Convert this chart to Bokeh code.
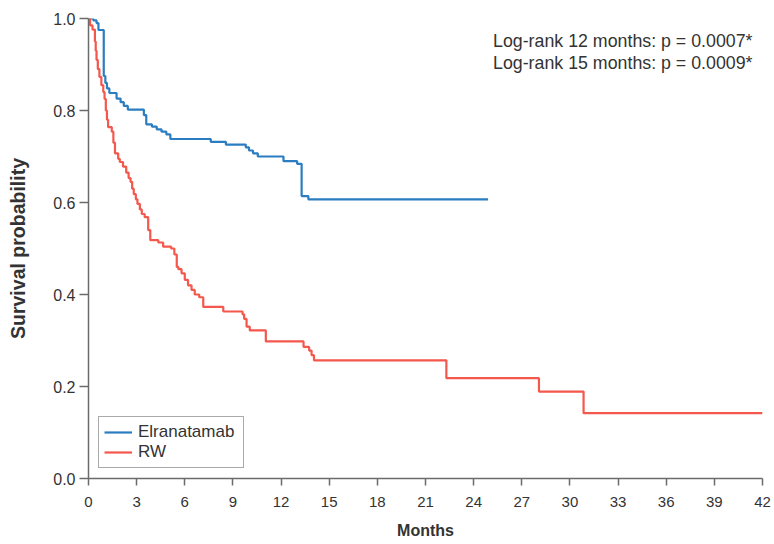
from bokeh.plotting import figure
from bokeh.models import FixedTicker, Legend, LegendItem, Label, Range1d, CustomJSTickFormatter
from bokeh.embed import file_html
from bokeh.resources import INLINE

# Elranatamab Kaplan-Meier steps (time in months, survival after the step)
elra_t = [0, 0.3, 0.5, 0.62, 0.95, 1.05, 1.15, 1.3, 1.75, 2.0, 2.2, 2.45, 3.45, 3.6, 3.95,
          4.25, 4.55, 4.85, 5.1, 7.62, 8.56, 9.8, 10.0, 10.25, 10.55, 12.15, 13.0, 13.28,
          13.7, 24.9]
elra_s = [1.0, 0.996, 0.99, 0.975, 0.875, 0.86, 0.848, 0.838, 0.826, 0.818, 0.81, 0.802,
          0.79, 0.77, 0.765, 0.759, 0.754, 0.748, 0.738, 0.732, 0.726, 0.72, 0.713, 0.707,
          0.70, 0.69, 0.684, 0.614, 0.607, 0.607]

# Real-world (RW) cohort
rw_t = [0, 0.1, 0.25, 0.4, 0.45, 0.5, 0.58, 0.68, 0.8, 0.92, 1.0, 1.08, 1.15, 1.22, 1.45,
        1.55, 1.65, 1.85, 1.95, 2.15, 2.35, 2.5, 2.62, 2.72, 2.82, 2.95, 3.05, 3.2, 3.32,
        3.5, 3.72, 3.85, 4.35, 4.65, 5.15, 5.35, 5.5, 5.6, 5.8, 6.0, 6.2, 6.42, 6.62, 6.9,
        7.15, 8.4, 9.6, 9.7, 9.85, 10.05, 11.05, 13.4, 13.75, 13.9, 14.05, 22.3, 28.07,
        30.85, 42.0]
rw_s = [1.0, 0.985, 0.976, 0.95, 0.93, 0.91, 0.89, 0.873, 0.855, 0.84, 0.825, 0.80, 0.78,
        0.764, 0.754, 0.73, 0.707, 0.695, 0.688, 0.678, 0.665, 0.653, 0.645, 0.63, 0.618,
        0.607, 0.597, 0.585, 0.575, 0.568, 0.54, 0.518, 0.513, 0.504, 0.50, 0.487, 0.46,
        0.455, 0.446, 0.432, 0.42, 0.41, 0.40, 0.394, 0.373, 0.363, 0.357, 0.347, 0.33,
        0.322, 0.298, 0.286, 0.278, 0.268, 0.257, 0.218, 0.189, 0.142, 0.142]

x_ticks = list(range(0, 43, 3))
y_ticks = [0.0, 0.2, 0.4, 0.6, 0.8, 1.0]
annot = ["Log-rank 12 months: p = 0.0007*", "Log-rank 15 months: p = 0.0009*"]
series_names = ["Elranatamab", "RW"]

BLUE = "#2a7dc1"
RED = "#f4574c"
FONT = "Liberation Sans"
TXT = "#333333"
AX = "#6b6b6b"

p = figure(width=774, height=544, output_backend="svg", toolbar_location=None,
           x_range=Range1d(0, 42), y_range=Range1d(0, 1.0),
           min_border_left=88, min_border_top=18, min_border_right=12, min_border_bottom=66)
p.outline_line_color = None
p.grid.visible = False
p.background_fill_color = "white"

r1 = p.step(elra_t, elra_s, mode="after", line_color=BLUE, line_width=2.2)
r2 = p.step(rw_t, rw_s, mode="after", line_color=RED, line_width=2.2)

for ax in (p.xaxis[0], p.yaxis[0]):
    ax.axis_line_color = AX
    ax.axis_line_width = 1.5
    ax.major_tick_line_color = AX
    ax.major_tick_line_width = 1.5
    ax.minor_tick_line_color = None
    ax.major_tick_in = 0
    ax.major_label_text_color = TXT
    ax.major_label_text_font = FONT
    ax.axis_label_text_font = FONT
    ax.axis_label_text_font_style = "bold"
    ax.axis_label_text_color = TXT

p.xaxis.major_label_text_font_size = "15px"
p.xaxis.axis_label_text_font_size = "16px"
p.yaxis.major_label_text_font_size = "16px"
p.yaxis.axis_label_text_font_size = "19.5px"

p.xaxis.ticker = FixedTicker(ticks=x_ticks)
p.yaxis.ticker = FixedTicker(ticks=y_ticks)
p.yaxis.formatter = CustomJSTickFormatter(code="return tick.toFixed(1);")
p.xaxis.major_tick_out = 7
p.yaxis.major_tick_out = 9
p.xaxis.major_label_standoff = 11
p.yaxis.major_label_standoff = 4
p.xaxis.axis_label = "Months"
p.yaxis.axis_label = "Survival probability"
p.xaxis.axis_label_standoff = 12
p.yaxis.axis_label_standoff = 21

legend = Legend(items=[LegendItem(label=series_names[0], renderers=[r1]),
                       LegendItem(label=series_names[1], renderers=[r2])],
                location="bottom_left")
legend.margin = 10
legend.padding = 5
legend.spacing = 0
legend.border_line_color = "#555555"
legend.border_line_width = 1
legend.label_text_font = FONT
legend.label_text_font_size = "17px"
legend.label_text_color = TXT
legend.glyph_width = 28
legend.glyph_height = 18
legend.label_height = 18
legend.label_standoff = 6
legend.label_width = 100
p.add_layout(legend)

for i, t in enumerate(annot):
    p.add_layout(Label(x=752 - 88, y=478 - 40 - 22 * i, x_units="screen", y_units="screen",
                       text=t, text_align="right", text_baseline="middle",
                       text_font=FONT, text_font_size="17.8px", text_color=TXT))

open("out.html", "w").write(file_html(p, INLINE))
